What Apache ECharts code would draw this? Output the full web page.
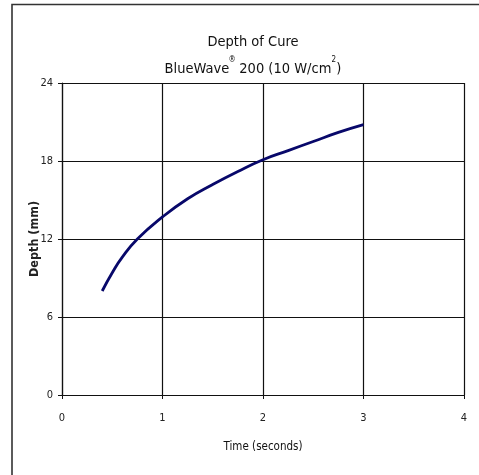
<!DOCTYPE html>
<html><head><meta charset="utf-8">
<script src="https://cdn.jsdelivr.net/npm/echarts@6/dist/echarts.min.js"></script>
<style>html,body{margin:0;padding:0;background:#fff}#c{width:479px;height:475px}</style>
</head><body><div id="c"></div>
<script>
var timeSeconds = [0.4, 0.5, 0.6, 0.75, 1, 1.25, 1.5, 1.75, 2, 2.25, 2.5, 2.75, 3];
var depthMm = [8.0, 9.4, 10.6, 12.0, 13.7, 15.1, 16.2, 17.2, 18.1, 18.8, 19.5, 20.2, 20.8];
var xTicks = [0, 1, 2, 3, 4];
var yTicks = [0, 6, 12, 18, 24];

var pts = timeSeconds.map(function (t, i) { return [t, depthMm[i]]; });
var FONT = '"DejaVu Sans Condensed", "Liberation Sans Narrow", "Liberation Sans", sans-serif';
var chart = echarts.init(document.getElementById('c'));
chart.setOption({
  animation: false,
  backgroundColor: '#fff',
  graphic: [{
    type: 'rect', shape: { x: 12, y: 4.5, width: 520, height: 520 },
    style: { fill: 'none', stroke: '#333', lineWidth: 1.6 }, z: 0
  }],
  title: {
    text: '{n|Depth of Cure}\n{n|BlueWave}{sup|®}{n| 200 (10 W/cm}{sup2|2}{n|)}',
    left: 248, top: 24, textAlign: 'center',
    textStyle: {
      fontFamily: FONT, fontSize: 14.5, fontWeight: 'normal', color: '#111', lineHeight: 27,
      rich: {
        n: { fontFamily: FONT, fontSize: 14.5, lineHeight: 27, color: '#111' },
        sup: { fontFamily: FONT, fontSize: 8, width: 6, align: 'left', verticalAlign: 'top', lineHeight: 12, color: '#111' },
        sup2: { fontFamily: FONT, fontSize: 8, width: 5, align: 'left', verticalAlign: 'top', lineHeight: 12, color: '#111' }
      }
    }
  },
  grid: { left: 62, right: 15, top: 83, bottom: 80 },
  xAxis: {
    type: 'value', min: 0, max: 4, interval: 1,
    name: 'Time (seconds)', nameLocation: 'middle', nameGap: 46, nameMoveOverlap: false,
    nameTextStyle: { fontFamily: FONT, fontSize: 11.5, color: '#111' },
    axisLine: { show: true, lineStyle: { color: '#111', width: 1.2 } },
    axisTick: { show: true, length: 4, lineStyle: { color: '#111' } },
    axisLabel: { fontFamily: FONT, fontSize: 11, color: '#222', margin: 18,
      formatter: function (v) { return xTicks.indexOf(v) >= 0 ? String(v) : ''; } },
    splitLine: { show: true, lineStyle: { color: '#111', width: 1.2 } }
  },
  yAxis: {
    type: 'value', min: 0, max: 24, interval: 6,
    name: 'Depth (mm)', nameLocation: 'middle', nameGap: 21, nameRotate: 90, nameMoveOverlap: false,
    nameTextStyle: { fontFamily: FONT, fontSize: 12.5, fontWeight: 'bold', color: '#222' },
    axisLine: { show: true, lineStyle: { color: '#111', width: 1.2 } },
    axisTick: { show: true, length: 4, lineStyle: { color: '#111' } },
    axisLabel: { fontFamily: FONT, fontSize: 11, color: '#222', margin: 9,
      formatter: function (v) { return yTicks.indexOf(v) >= 0 ? String(v) : ''; } },
    splitLine: { show: true, lineStyle: { color: '#111', width: 1.2 } }
  },
  series: [{
    type: 'line', data: pts, smooth: true, showSymbol: false,
    lineStyle: { color: '#08086a', width: 2.8 }
  }]
});
</script></body></html>
